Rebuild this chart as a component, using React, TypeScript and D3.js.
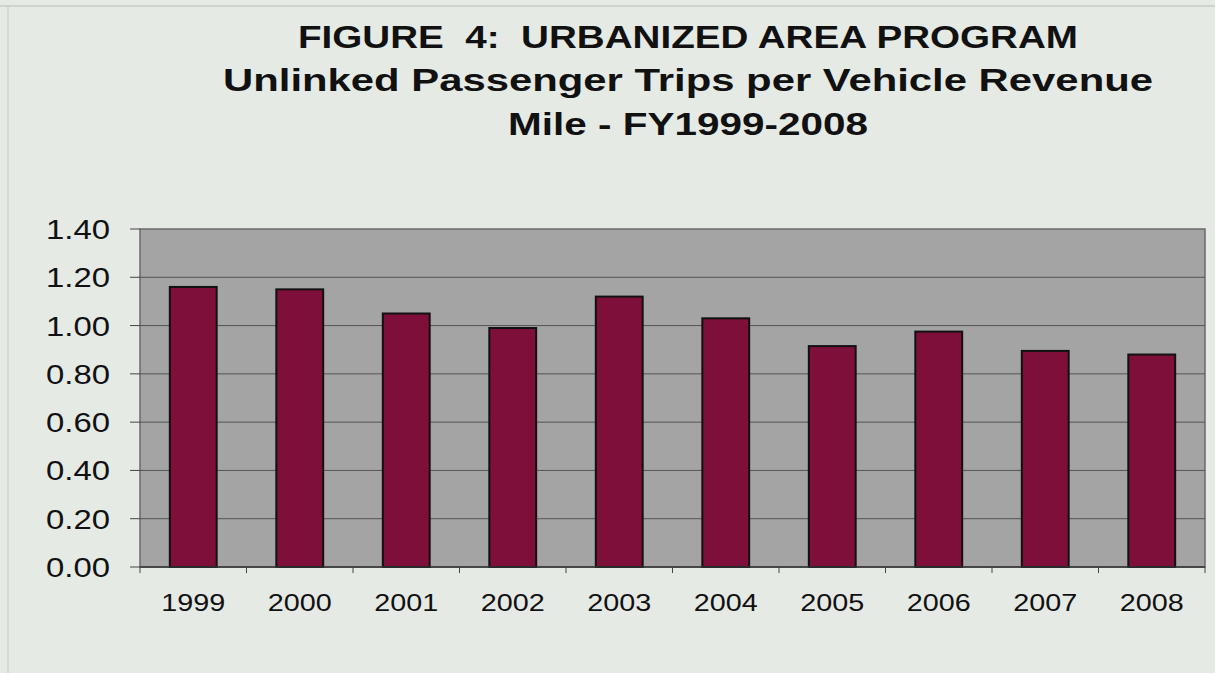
import React from "react";
import * as d3 from "d3";

const years = ["1999", "2000", "2001", "2002", "2003", "2004", "2005", "2006", "2007", "2008"];
const tripsPerMile = [1.16, 1.15, 1.05, 0.99, 1.12, 1.03, 0.915, 0.975, 0.895, 0.88];
const yTicks = [0, 0.2, 0.4, 0.6, 0.8, 1.0, 1.2, 1.4];
const titleLines = [
  "FIGURE \u00a04: \u00a0URBANIZED AREA PROGRAM",
  "Unlinked Passenger Trips per Vehicle Revenue",
  "Mile - FY1999-2008",
];

export default function App() {
  const W = 1215, H = 673;
  const left = 140, right = 1205, top = 229, bottom = 567;
  const x = d3.scaleBand().domain(years).range([left, right]).paddingInner(0.56).paddingOuter(0.28);
  const band = d3.scaleBand().domain(years).range([left, right]);
  const y = d3.scaleLinear().domain([0, 1.4]).range([bottom, top]);
  const font = "Arial, 'Liberation Sans', sans-serif";
  const titleY = [48, 91, 135];
  const titleW = [780, 930, 360];
  return (
    <svg width={W} height={H} style={{ position: "absolute", left: 0, top: 0 }}>
      <rect x={0} y={0} width={W} height={H} fill="#e5eae5" />
      <line x1={0} x2={W} y1={6} y2={6} stroke="#b8bcb8" strokeWidth={1} />
      <line x1={8} x2={8} y1={6} y2={H} stroke="#c4c8c4" strokeWidth={1} />
      {titleLines.map((t, i) => (
        <text key={i} x={688} y={titleY[i]} textAnchor="middle" fontFamily={font} fontWeight="bold"
          fontSize={32} fill="#111" textLength={titleW[i]} lengthAdjust="spacingAndGlyphs">{t}</text>
      ))}
      <rect x={left} y={top} width={right - left} height={bottom - top} fill="#a4a4a4" stroke="#6a6a6a" strokeWidth={1.5} />
      {yTicks.map((v) => (
        <g key={v}>
          {v > 0 && v < 1.4 && (
            <line x1={left} x2={right} y1={y(v)} y2={y(v)} stroke="#555" strokeWidth={1} />
          )}
          <line x1={130} x2={left} y1={y(v)} y2={y(v)} stroke="#444" strokeWidth={1} />
          <text x={110} y={y(v) + 10} textAnchor="end" fontFamily={font} fontSize={28} fill="#111"
            textLength={64} lengthAdjust="spacingAndGlyphs">
            {v.toFixed(2)}
          </text>
        </g>
      ))}
      {years.map((yr, i) => (
        <rect key={yr} x={x(yr)!} y={y(tripsPerMile[i])} width={x.bandwidth()} height={bottom - y(tripsPerMile[i])}
          fill="#7e0e3a" stroke="#111" strokeWidth={2} />
      ))}
      <line x1={left} x2={right} y1={bottom} y2={bottom} stroke="#333" strokeWidth={1.5} />
      {years.map((yr) => (
        <line key={"t" + yr} x1={band(yr)!} x2={band(yr)!} y1={bottom} y2={bottom + 6} stroke="#444" strokeWidth={1} />
      ))}
      <line x1={right} x2={right} y1={bottom} y2={bottom + 6} stroke="#444" strokeWidth={1} />
      {years.map((yr) => (
        <text key={"l" + yr} x={band(yr)! + band.bandwidth() / 2} y={611} textAnchor="middle" fontFamily={font}
          fontSize={24} fill="#111" textLength={64} lengthAdjust="spacingAndGlyphs">{yr}</text>
      ))}
    </svg>
  );
}
